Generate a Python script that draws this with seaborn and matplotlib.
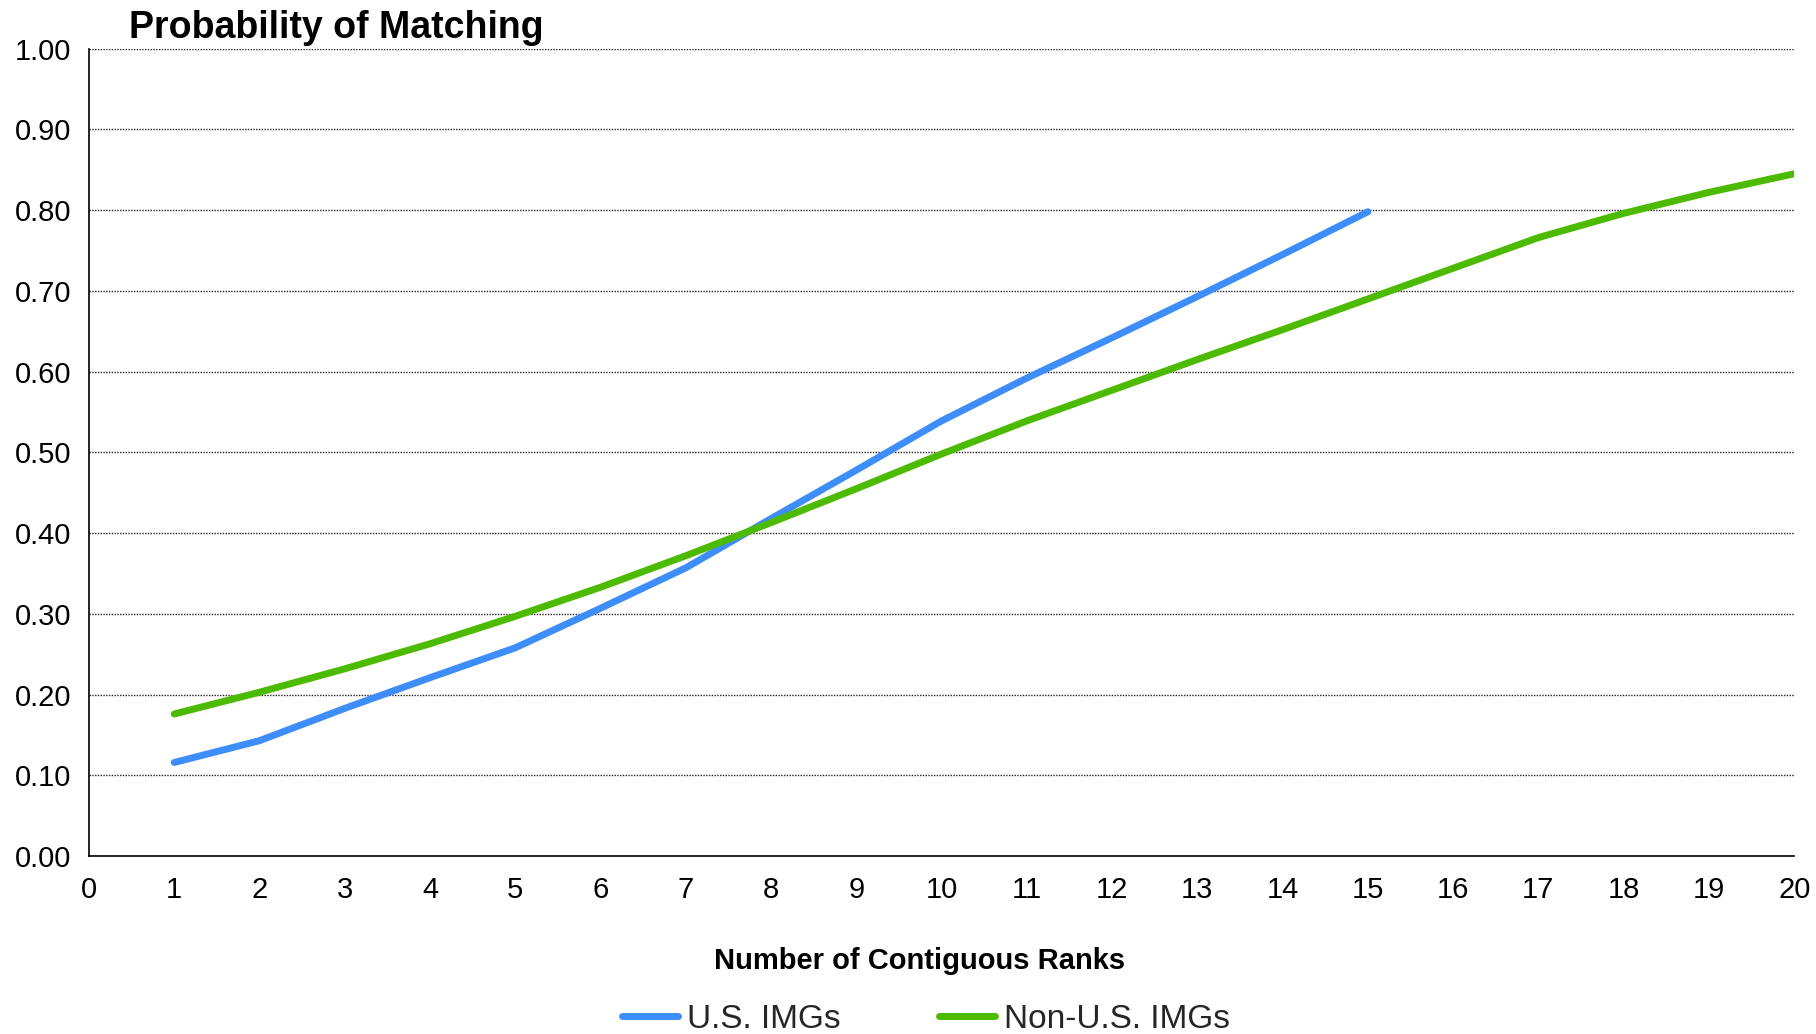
import matplotlib
matplotlib.use("Agg")
import matplotlib.pyplot as plt
import seaborn as sns
import pandas as pd

# Probability of matching by number of contiguous ranks
ranks_us = [1, 2, 3, 4, 5, 6, 7, 8, 9, 10, 11, 12, 13, 14, 15]
prob_us = [0.116, 0.143, 0.183, 0.221, 0.258, 0.307, 0.357, 0.418, 0.478,
           0.539, 0.592, 0.642, 0.693, 0.745, 0.798]

ranks_non_us = list(range(1, 21))
prob_non_us = [0.176, 0.203, 0.232, 0.263, 0.297, 0.333, 0.372, 0.413, 0.455,
               0.498, 0.539, 0.577, 0.615, 0.652, 0.690, 0.728, 0.766, 0.796,
               0.822, 0.845]

series_names = ["U.S. IMGs", "Non-U.S. IMGs"]
series_colors = ["#3D8EFA", "#4CBB00"]

x_ticks = list(range(0, 21))
y_ticks = [0.0, 0.1, 0.2, 0.3, 0.4, 0.5, 0.6, 0.7, 0.8, 0.9, 1.0]

df = pd.concat([
    pd.DataFrame({"rank": ranks_us, "prob": prob_us, "group": series_names[0]}),
    pd.DataFrame({"rank": ranks_non_us, "prob": prob_non_us, "group": series_names[1]}),
], ignore_index=True)

sns.set_theme(style="white")
plt.rcParams["font.family"] = ["Liberation Sans", "DejaVu Sans"]

fig = plt.figure(figsize=(18.16, 10.34), dpi=100)
ax = fig.add_axes([0.049, 0.172, 0.939, 0.781])

sns.lineplot(data=df, x="rank", y="prob", hue="group", hue_order=series_names,
             palette=series_colors, linewidth=5, ax=ax, legend=False,
             solid_capstyle="round", solid_joinstyle="round")

ax.set_xlim(0, 20)
ax.set_ylim(0, 1.0)
ax.set_xticks(x_ticks)
ax.set_xticklabels([str(t) for t in x_ticks], fontsize=21)
ax.set_yticks(y_ticks)
ax.set_yticklabels([f"{t:.2f}" for t in y_ticks], fontsize=21)
ax.tick_params(axis="both", length=0, colors="black")
ax.tick_params(axis="y", pad=12.5)
ax.tick_params(axis="x", pad=14)

ax.yaxis.grid(True, color="#222222", linestyle=(0, (1, 1)), linewidth=1)
ax.xaxis.grid(False)
ax.set_axisbelow(True)
for side in ["top", "right"]:
    ax.spines[side].set_visible(False)
for side in ["left", "bottom"]:
    ax.spines[side].set_color("black")
    ax.spines[side].set_linewidth(1.2)

ax.set_xlabel("Number of Contiguous Ranks", fontsize=21, fontweight="bold", color="black")
ax.xaxis.set_label_coords(0.487, -0.112)
ax.set_ylabel("")

fig.text(0.071, 1 - 28 / 1034, "Probability of Matching", fontsize=27,
         fontweight="bold", va="center", ha="left", color="black")

handles = [plt.Line2D([0], [0], color=c, linewidth=5, solid_capstyle="round")
           for c in series_colors]
fig.legend(handles, series_names, loc="center", bbox_to_anchor=(926 / 1816, 1 - 1019 / 1034),
           ncol=2, frameon=False, fontsize=24, handlelength=1.67, handletextpad=0.28,
           columnspacing=2.95)

fig.savefig("out.png", dpi=100)
